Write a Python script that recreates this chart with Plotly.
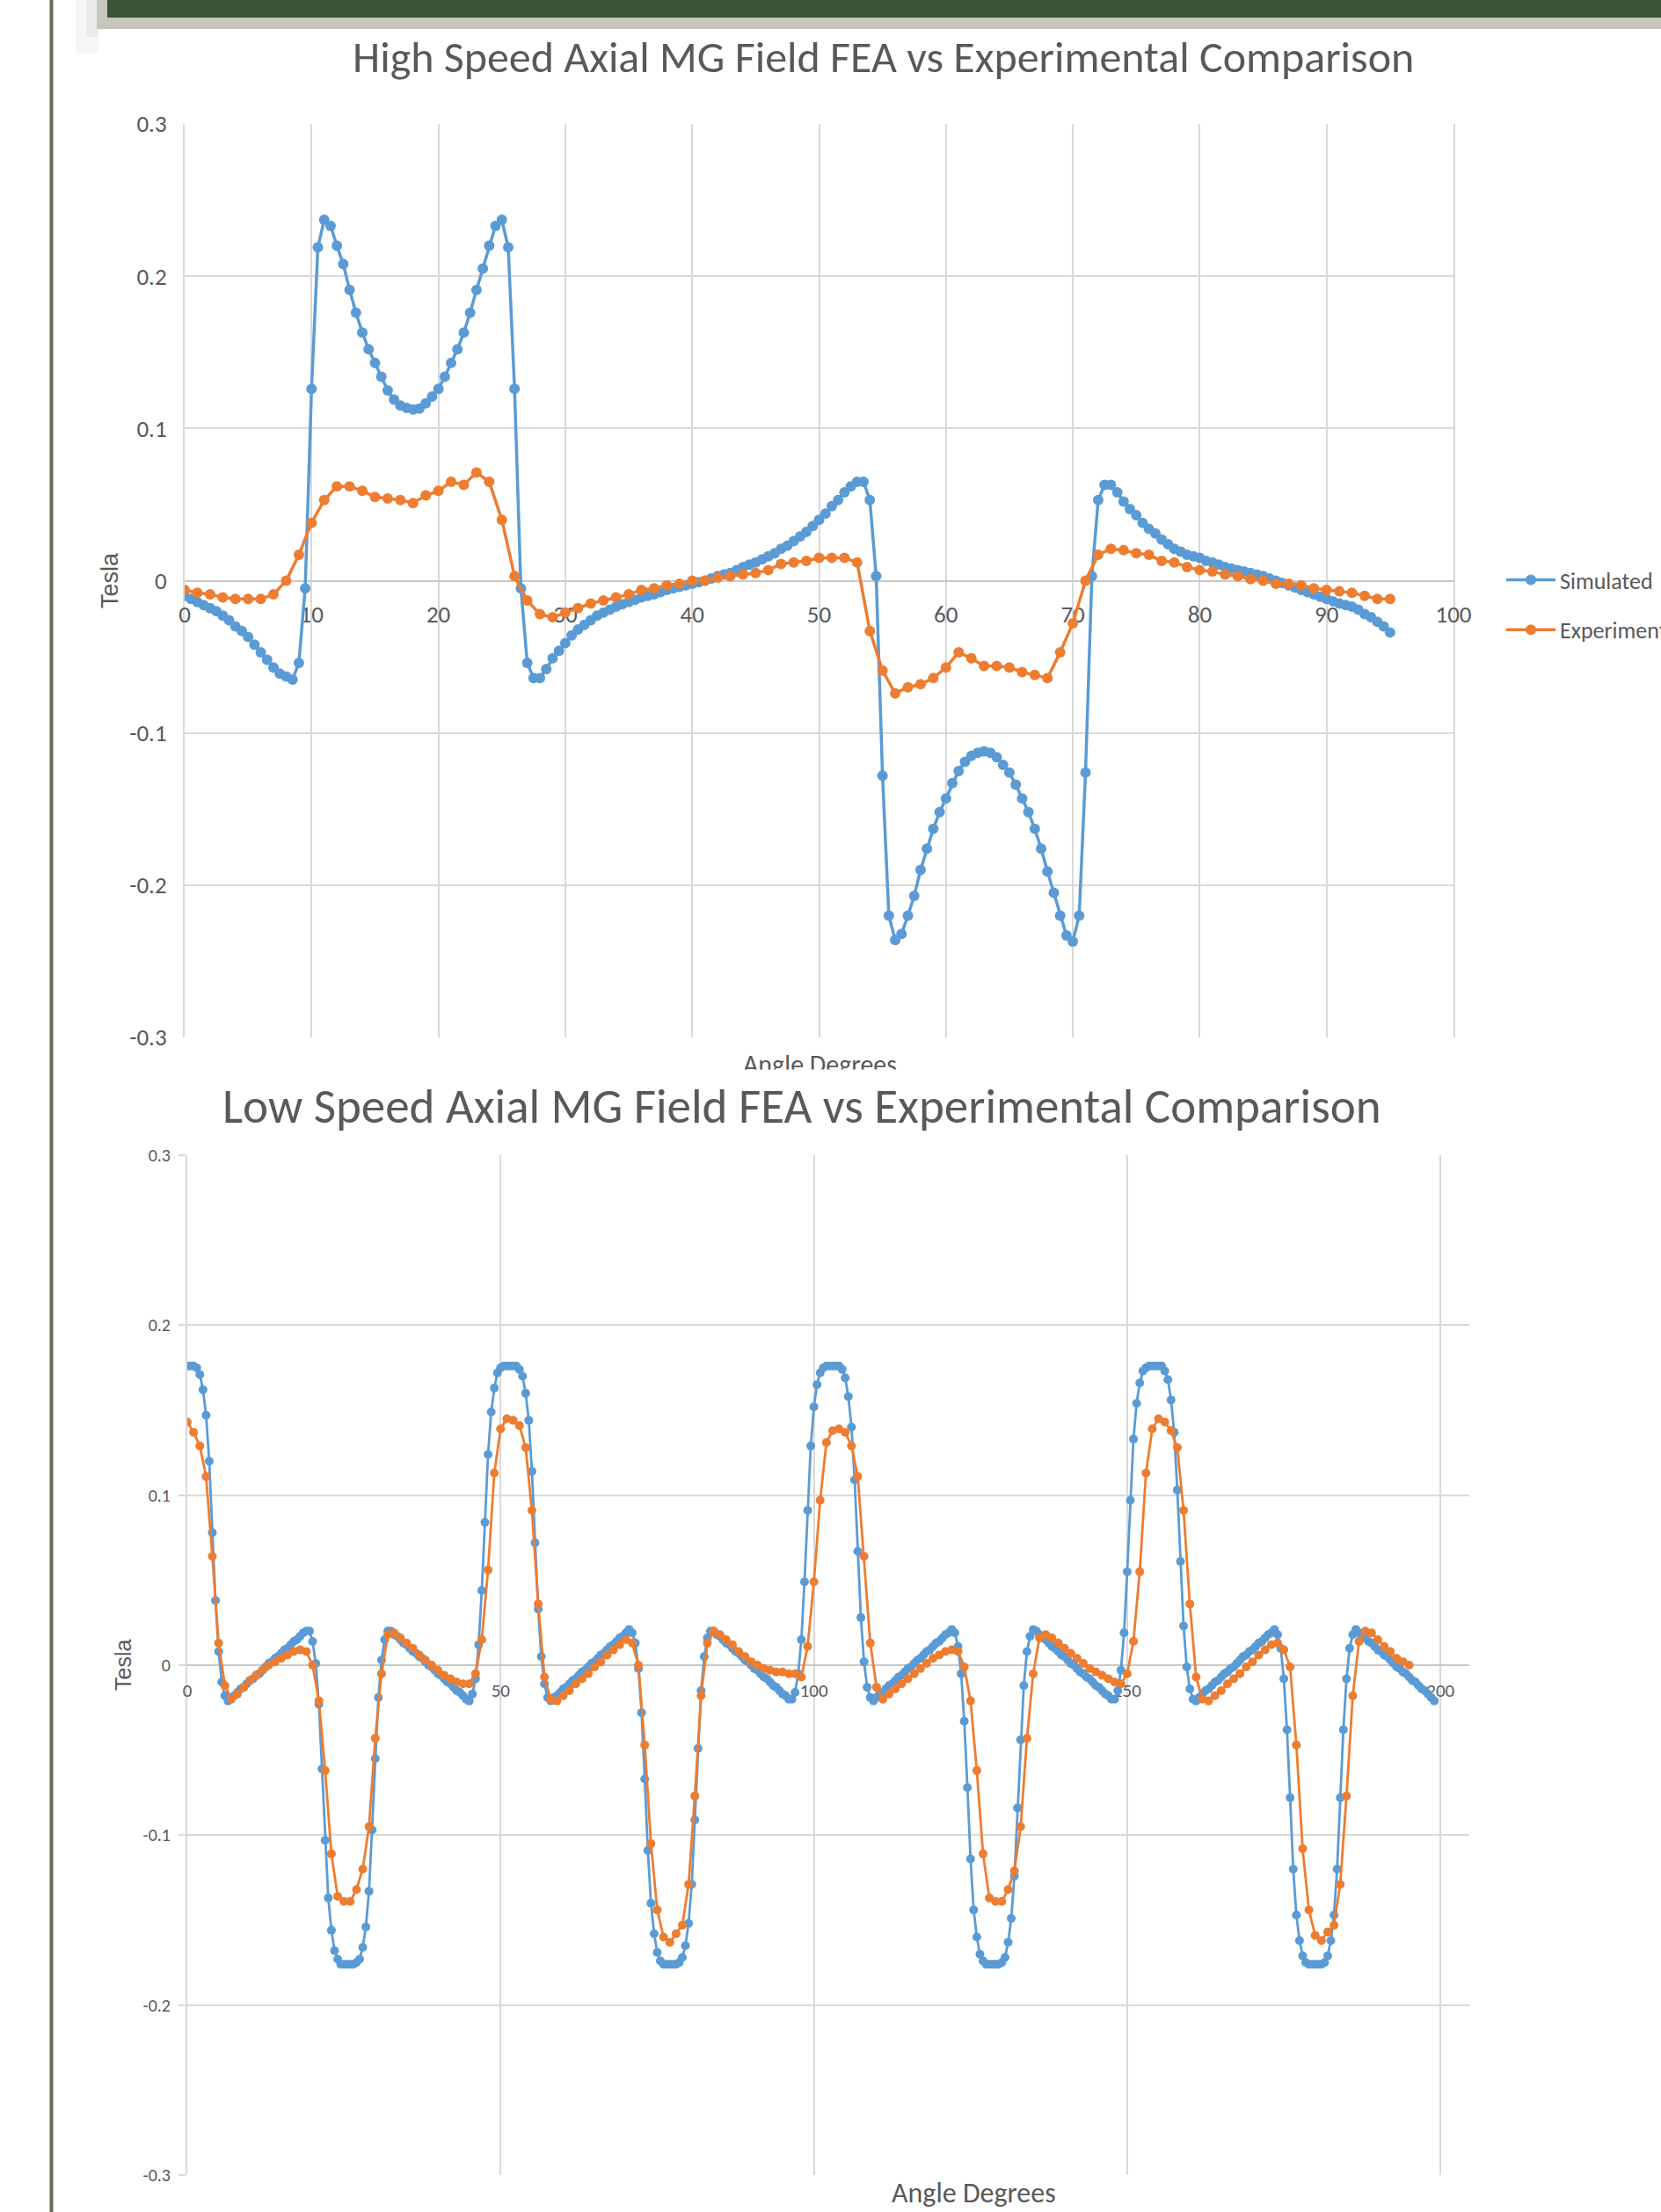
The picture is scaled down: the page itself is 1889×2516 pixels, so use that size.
import plotly.graph_objects as go

W, H = 1889, 2516

# ---------------- data ----------------
# High speed chart: simulated (0.5 deg steps from 0), experiment (1 deg steps from 0)
hs_sim = [
    -0.010, -0.012, -0.014, -0.016, -0.018, -0.020, -0.023, -0.026, -0.030, -0.033,
    -0.037, -0.042, -0.047, -0.052, -0.057, -0.061, -0.063, -0.065, -0.054, -0.005,
    0.126, 0.219, 0.237, 0.233, 0.220, 0.208, 0.191, 0.176, 0.163, 0.152,
    0.143, 0.134, 0.125, 0.119, 0.115, 0.1135, 0.1125, 0.113, 0.1165, 0.121,
    0.126, 0.134, 0.143, 0.152, 0.163, 0.176, 0.191, 0.205, 0.220, 0.233,
    0.237, 0.219, 0.126, -0.005, -0.054, -0.064, -0.064, -0.058, -0.051, -0.046,
    -0.041, -0.036, -0.032, -0.029, -0.026, -0.023, -0.021, -0.019, -0.017, -0.0155,
    -0.014, -0.0125, -0.011, -0.010, -0.009, -0.0075, -0.006, -0.005, -0.004, -0.003,
    -0.002, -0.001, 0.000, 0.0015, 0.003, 0.004, 0.005, 0.007, 0.009, 0.0105,
    0.012, 0.014, 0.016, 0.018, 0.021, 0.023, 0.026, 0.029, 0.032, 0.036,
    0.040, 0.044, 0.049, 0.053, 0.058, 0.062, 0.065, 0.065, 0.053, 0.003,
    -0.128, -0.220, -0.236, -0.232, -0.220, -0.207, -0.190, -0.176, -0.163, -0.152,
    -0.143, -0.133, -0.125, -0.119, -0.115, -0.113, -0.112, -0.113, -0.116, -0.121,
    -0.126, -0.134, -0.143, -0.152, -0.163, -0.176, -0.191, -0.205, -0.220, -0.233,
    -0.237, -0.220, -0.126, 0.003, 0.053, 0.063, 0.063, 0.058, 0.052, 0.047,
    0.043, 0.038, 0.034, 0.031, 0.027, 0.024, 0.021, 0.019, 0.017, 0.016,
    0.015, 0.013, 0.012, 0.0105, 0.009, 0.008, 0.007, 0.006, 0.005, 0.004,
    0.003, 0.0015, 0.000, -0.0015, -0.003, -0.0045, -0.006, -0.0075, -0.009, -0.0105,
    -0.012, -0.0135, -0.015, -0.016, -0.017, -0.019, -0.022, -0.024, -0.027, -0.030,
    -0.034,
]
hs_exp = [
    -0.006, -0.008, -0.009, -0.011, -0.012, -0.012, -0.012, -0.009, 0.000, 0.017,
    0.038, 0.053, 0.062, 0.062, 0.059, 0.055, 0.054, 0.053, 0.051, 0.056,
    0.059, 0.065, 0.063, 0.071, 0.065, 0.040, 0.003, -0.013, -0.022, -0.024,
    -0.021, -0.018, -0.015, -0.013, -0.011, -0.009, -0.006, -0.005, -0.003, -0.002,
    0.000, 0.000, 0.002, 0.003, 0.004, 0.005, 0.007, 0.011, 0.012, 0.013,
    0.015, 0.015, 0.015, 0.012, -0.033, -0.059, -0.074, -0.070, -0.068, -0.064,
    -0.057, -0.047, -0.051, -0.056, -0.056, -0.057, -0.060, -0.062, -0.064, -0.047,
    -0.028, 0.000, 0.017, 0.021, 0.020, 0.018, 0.017, 0.013, 0.012, 0.009,
    0.007, 0.006, 0.004, 0.003, 0.001, 0.000, -0.002, -0.002, -0.003, -0.005,
    -0.006, -0.007, -0.008, -0.010, -0.012, -0.012,
]

# Low speed chart: simulated (0.5 deg steps from 0), experiment (1 deg steps from 0)
ls_sim = [
    0.176, 0.176, 0.176, 0.175, 0.171, 0.162, 0.147, 0.120, 0.078, 0.038,
    0.008, -0.010, -0.018, -0.021, -0.019, -0.018, -0.016, -0.014, -0.013, -0.011,
    -0.009, -0.008, -0.006, -0.005, -0.003, -0.001,
    0.001, 0.002, 0.004, 0.005, 0.007, 0.009, 0.010, 0.012, 0.014, 0.015,
    0.017, 0.019, 0.020, 0.020, 0.014, 0.001, -0.023, -0.061, -0.103, -0.137,
    -0.156, -0.168, -0.173, -0.176, -0.176, -0.176, -0.176, -0.176, -0.175, -0.173,
    -0.166, -0.154, -0.133, -0.097, -0.055, -0.019, 0.003, 0.015, 0.020, 0.020,
    0.018, 0.017, 0.015, 0.013, 0.012, 0.010, 0.008, 0.007, 0.005, 0.004,
    0.002, 0.000,
    -0.001, -0.003, -0.005, -0.006, -0.008, -0.010, -0.011, -0.013, -0.015, -0.016,
    -0.018, -0.020, -0.021, -0.017, -0.008, 0.012, 0.044, 0.084, 0.124, 0.149,
    0.163, 0.172, 0.175, 0.176, 0.176, 0.176, 0.176, 0.176, 0.174, 0.170,
    0.160, 0.144, 0.114, 0.072, 0.033, 0.005, -0.011, -0.019, -0.021, -0.019,
    -0.018, -0.016, -0.014, -0.013, -0.011, -0.009, -0.008, -0.006, -0.004, -0.003,
    -0.001,
    0.001, 0.002, 0.004, 0.006, 0.007, 0.009, 0.011, 0.012, 0.014, 0.016,
    0.017, 0.019, 0.021, 0.019, 0.013, -0.002, -0.028, -0.067, -0.109, -0.140,
    -0.158, -0.169, -0.174, -0.176, -0.176, -0.176, -0.176, -0.176, -0.175, -0.172,
    -0.165, -0.152, -0.129, -0.091, -0.049, -0.015, 0.005, 0.016, 0.020, 0.020,
    0.018, 0.017, 0.015, 0.013, 0.012, 0.010, 0.008, 0.007, 0.005, 0.003,
    0.002,
    0.000, -0.002, -0.003, -0.005, -0.007, -0.008, -0.010, -0.012, -0.013, -0.015,
    -0.017, -0.018, -0.020, -0.020, -0.016, -0.005, 0.015, 0.049, 0.091, 0.129,
    0.152, 0.165, 0.172, 0.175, 0.176, 0.176, 0.176, 0.176, 0.176, 0.174,
    0.169, 0.158, 0.140, 0.109, 0.067, 0.028, 0.002, -0.013, -0.019, -0.021,
    -0.019, -0.017, -0.016, -0.014, -0.012, -0.011, -0.009, -0.007, -0.006, -0.004,
    -0.002, -0.001,
    0.001, 0.003, 0.004, 0.006, 0.008, 0.009, 0.011, 0.013, 0.014, 0.016,
    0.018, 0.019, 0.021, 0.019, 0.011, -0.005, -0.033, -0.072, -0.114, -0.144,
    -0.160, -0.170, -0.174, -0.176, -0.176, -0.176, -0.176, -0.176, -0.175, -0.172,
    -0.163, -0.149, -0.124, -0.084, -0.044, -0.012, 0.008, 0.017, 0.021, 0.020,
    0.018, 0.016, 0.015, 0.013, 0.011, 0.010, 0.008, 0.006, 0.005, 0.003,
    0.001,
    0.000, -0.002, -0.004, -0.005, -0.007, -0.008, -0.010, -0.012, -0.013, -0.015,
    -0.017, -0.018, -0.020, -0.020, -0.015, -0.003, 0.019, 0.055, 0.097, 0.133,
    0.154, 0.166, 0.173, 0.175, 0.176, 0.176, 0.176, 0.176, 0.176, 0.173,
    0.168, 0.156, 0.137, 0.103, 0.061, 0.023, -0.001, -0.014, -0.020, -0.021,
    -0.019, -0.017, -0.015, -0.014, -0.012, -0.010, -0.009, -0.007, -0.005, -0.004,
    -0.002, -0.001,
    0.001, 0.003, 0.005, 0.006, 0.008, 0.009, 0.011, 0.013, 0.014, 0.016,
    0.018, 0.019, 0.021, 0.018, 0.010, -0.008, -0.038, -0.078, -0.120, -0.147,
    -0.162, -0.171, -0.175, -0.176, -0.176, -0.176, -0.176, -0.176, -0.175, -0.171,
    -0.162, -0.147, -0.120, -0.078, -0.038, -0.008, 0.010, 0.018, 0.021, 0.019,
    0.018, 0.016, 0.014, 0.013, 0.011, 0.009, 0.008, 0.006, 0.005, 0.003,
    0.001,
    -0.001, -0.002, -0.004, -0.005, -0.007, -0.009, -0.010, -0.012, -0.014, -0.015,
    -0.017, -0.019, -0.021,
]
ls_exp = [
    0.143, 0.137, 0.129, 0.111, 0.064, 0.013, -0.012, -0.020, -0.017, -0.013,
    -0.009, -0.006, -0.003, 0.000, 0.002, 0.004, 0.006, 0.008, 0.009, 0.008,
    0.000, -0.021, -0.062, -0.111, -0.136, -0.139, -0.139, -0.132, -0.120, -0.095,
    -0.043, -0.005, 0.018, 0.019, 0.016, 0.013, 0.010, 0.006, 0.003, 0.000,
    -0.003, -0.006, -0.008, -0.010, -0.011, -0.011, -0.005, 0.015, 0.056, 0.113,
    0.139, 0.145, 0.144, 0.141, 0.128, 0.091, 0.036, -0.007, -0.020, -0.021,
    -0.018, -0.015, -0.011, -0.008, -0.005, -0.001, 0.002, 0.006, 0.009, 0.012,
    0.015, 0.013, 0.000, -0.047, -0.105, -0.144, -0.160, -0.163, -0.158, -0.153,
    -0.129, -0.077, -0.018, 0.013, 0.020, 0.018, 0.015, 0.012, 0.008, 0.005,
    0.002, 0.000, -0.002, -0.003, -0.004, -0.004, -0.005, -0.005, -0.007, 0.011,
    0.049, 0.097, 0.131, 0.138, 0.139, 0.137, 0.129, 0.111, 0.064, 0.013,
    -0.013, -0.020, -0.017, -0.014, -0.011, -0.008, -0.005, -0.002, 0.001, 0.004,
    0.006, 0.008, 0.009, 0.008, -0.001, -0.021, -0.062, -0.111, -0.137, -0.139,
    -0.139, -0.132, -0.121, -0.095, -0.043, -0.005, 0.016, 0.018, 0.016, 0.013,
    0.010, 0.007, 0.004, 0.001, -0.002, -0.004, -0.006, -0.008, -0.010, -0.011,
    -0.005, 0.014, 0.055, 0.113, 0.139, 0.145, 0.143, 0.138, 0.128, 0.091,
    0.036, -0.007, -0.020, -0.021, -0.018, -0.015, -0.011, -0.008, -0.005, -0.001,
    0.002, 0.006, 0.009, 0.012, 0.013, 0.009, -0.001, -0.047, -0.108, -0.144,
    -0.159, -0.162, -0.157, -0.153, -0.129, -0.077, -0.018, 0.014, 0.020, 0.019,
    0.015, 0.011, 0.008, 0.004, 0.002, 0.000,
]

hs_sim_angle = [i * 0.5 for i in range(len(hs_sim))]
hs_exp_angle = [float(i) for i in range(len(hs_exp))]
ls_sim_angle = [i * 0.5 for i in range(len(ls_sim))]
ls_exp_angle = [float(i) for i in range(len(ls_exp))]

series_names = ["Simulated", "Experimental"]
y_tick_vals = [-0.3, -0.2, -0.1, 0.0, 0.1, 0.2, 0.3]
y_tick_text = ["-0.3", "-0.2", "-0.1", "0", "0.1", "0.2", "0.3"]
hs_x_ticks = [0, 10, 20, 30, 40, 50, 60, 70, 80, 90, 100]
ls_x_ticks = [0, 50, 100, 150, 200]

titles = ["High Speed Axial MG Field FEA vs Experimental Comparison",
          "Low Speed Axial MG Field FEA vs Experimental Comparison"]
x_title = "Angle Degrees"
y_title = "Tesla"

# ---------------- styling ----------------
BLUE = "#5b9bd5"
ORANGE = "#ed7d31"
GRID = "#d9d9d9"
AXIS = "#c9c9c9"
TXT = "#595959"
NARROW = "Carlito, Liberation Sans Narrow, DejaVu Sans Condensed, Lato, sans-serif"
REG = "Liberation Sans, Arial, sans-serif"


def px(xp):
    return xp / W


def py(yp):
    return 1 - yp / H


fig = go.Figure()

# top chart
fig.add_trace(go.Scatter(x=hs_sim_angle, y=hs_sim, name=series_names[0], mode="lines+markers",
                         line=dict(color=BLUE, width=3.5), marker=dict(size=12, color=BLUE),
                         xaxis="x", yaxis="y", legendgroup="sim"))
fig.add_trace(go.Scatter(x=hs_exp_angle, y=hs_exp, name=series_names[1], mode="lines+markers",
                         line=dict(color=ORANGE, width=3.5), marker=dict(size=12, color=ORANGE),
                         xaxis="x", yaxis="y", legendgroup="exp"))
# bottom chart
fig.add_trace(go.Scatter(x=ls_sim_angle, y=ls_sim, name=series_names[0], mode="lines+markers",
                         line=dict(color=BLUE, width=2.8), marker=dict(size=10, color=BLUE),
                         xaxis="x2", yaxis="y2", showlegend=False))
fig.add_trace(go.Scatter(x=ls_exp_angle, y=ls_exp, name=series_names[1], mode="lines+markers",
                         line=dict(color=ORANGE, width=2.8), marker=dict(size=10, color=ORANGE),
                         xaxis="x2", yaxis="y2", showlegend=False))

top_dom_y = [py(1180), py(141)]
bot_dom_y = [py(2474), py(1314)]

fig.update_layout(
    width=W, height=H,
    margin=dict(l=0, r=0, t=0, b=0, autoexpand=False),
    paper_bgcolor="white", plot_bgcolor="rgba(0,0,0,0)",
    showlegend=True,
    legend=dict(x=px(1708), y=py(636), xanchor="left", yanchor="top",
                font=dict(family=NARROW, size=26, color=TXT),
                bgcolor="rgba(0,0,0,0)", tracegroupgap=20, itemwidth=56),
    xaxis=dict(domain=[px(210), px(1653)], range=[0, 100],
               tickvals=hs_x_ticks, ticktext=[str(v) for v in hs_x_ticks],
               showgrid=True, gridcolor=GRID, gridwidth=2, zeroline=False,
               anchor="free", position=sum(top_dom_y) / 2,
               showline=True, linecolor=AXIS, linewidth=2, ticks="",
               tickfont=dict(family=NARROW, size=27, color=TXT),
               ticklabelstandoff=14, layer="below traces"),
    yaxis=dict(domain=top_dom_y, range=[-0.3, 0.3], anchor="x",
               tickvals=y_tick_vals, ticktext=y_tick_text,
               showgrid=True, gridcolor=GRID, gridwidth=2, zeroline=False,
               showline=True, linecolor=GRID, linewidth=2, mirror=True, ticks="",
               tickfont=dict(family=NARROW, size=27, color=TXT),
               ticklabelstandoff=13, layer="below traces"),
    xaxis2=dict(domain=[px(213), px(1671)], range=[0, 204.6],
                tickvals=ls_x_ticks, ticktext=[str(v) for v in ls_x_ticks],
                showgrid=True, gridcolor=GRID, gridwidth=2, zeroline=False,
                anchor="free", position=sum(bot_dom_y) / 2,
                showline=True, linecolor=AXIS, linewidth=2, ticks="",
                tickfont=dict(family=NARROW, size=21, color=TXT),
                ticklabelstandoff=10, layer="below traces"),
    yaxis2=dict(domain=bot_dom_y, range=[-0.3, 0.3], anchor="x2",
                tickvals=y_tick_vals, ticktext=y_tick_text,
                showgrid=True, gridcolor=GRID, gridwidth=2, zeroline=False,
                showline=True, linecolor=GRID, linewidth=2,
                ticks="outside", ticklen=8, tickcolor=GRID, tickwidth=2,
                tickfont=dict(family=NARROW, size=20, color=TXT),
                ticklabelstandoff=5, layer="below traces"),
)

# slide frame decorations
shapes = [
    dict(type="rect", xref="paper", yref="paper", x0=px(86), x1=px(112), y0=py(60), y1=py(0),
         fillcolor="rgba(170,170,160,0.10)", line=dict(width=0), layer="below"),
    dict(type="rect", xref="paper", yref="paper", x0=px(98), x1=px(112), y0=py(42), y1=py(0),
         fillcolor="rgba(170,170,160,0.14)", line=dict(width=0), layer="below"),
    dict(type="rect", xref="paper", yref="paper", x0=px(110), x1=1, y0=py(33), y1=py(0),
         fillcolor="#c6c6bb", line=dict(width=0), layer="below"),
    dict(type="rect", xref="paper", yref="paper", x0=px(122), x1=1, y0=py(20), y1=py(0),
         fillcolor="#3a5339", line=dict(width=0), layer="below"),
    dict(type="rect", xref="paper", yref="paper", x0=px(56.5), x1=px(60.5), y0=0, y1=1,
         fillcolor="#686c55", line=dict(width=0), layer="below"),
]
fig.update_layout(shapes=shapes)

annotations = [
    dict(text=titles[0], x=px(1005), y=py(64), xanchor="center", yanchor="middle",
         xref="paper", yref="paper", showarrow=False,
         font=dict(family=NARROW, size=50, color=TXT)),
    dict(text=y_title, x=px(125), y=py(660), xanchor="center", yanchor="middle",
         xref="paper", yref="paper", textangle=-90, showarrow=False,
         font=dict(family=REG, size=27, color=TXT)),
    dict(text=x_title, x=px(932), y=py(1210), xanchor="center", yanchor="middle",
         xref="paper", yref="paper", showarrow=False,
         font=dict(family=NARROW, size=30, color=TXT)),
    # the lower chart's area overlaps the bottom of the upper axis title
    dict(text=" ", x=px(932), y=py(1226), xanchor="center", yanchor="middle",
         xref="paper", yref="paper", showarrow=False, width=240, height=18,
         bgcolor="white", borderpad=0, font=dict(size=4)),
    dict(text=titles[1], x=px(912), y=py(1258), xanchor="center", yanchor="middle",
         xref="paper", yref="paper", showarrow=False,
         font=dict(family=NARROW, size=55, color=TXT)),
    dict(text=y_title, x=px(140), y=py(1894), xanchor="center", yanchor="middle",
         xref="paper", yref="paper", textangle=-90, showarrow=False,
         font=dict(family=REG, size=25, color=TXT)),
    dict(text=x_title, x=px(1107), y=py(2494), xanchor="center", yanchor="middle",
         xref="paper", yref="paper", showarrow=False,
         font=dict(family=NARROW, size=32, color=TXT)),
]
fig.update_layout(annotations=annotations)

fig.write_html(
    "out.html",
    config={"displayModeBar": False},
    post_script="document.body.style.margin='0';document.body.style.overflow='hidden';",
)
